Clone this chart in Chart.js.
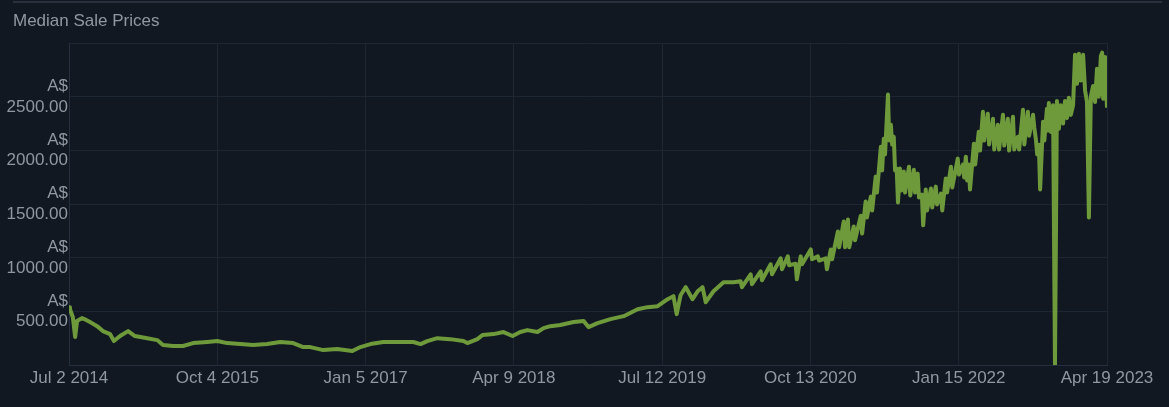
<!DOCTYPE html>
<html>
<head>
<meta charset="utf-8">
<script src="https://cdn.jsdelivr.net/npm/chart.js@4"></script>
<style>
  html, body { margin: 0; padding: 0; background: #111821; }
  #wrap { position: relative; width: 1169px; height: 407px; overflow: hidden; }
  #sep { position: absolute; left: 13px; top: 1px; width: 1149px; height: 2px; background: #28313d; }
  #title { position: absolute; left: 13px; top: 11px; font: 17px Arial, "Liberation Sans", sans-serif; color: #8f98a0; white-space: nowrap; }
  canvas { display: block; }
</style>
</head>
<body>
<div id="wrap">
  <div id="sep"></div>
  <div id="title">Median Sale Prices</div>
  <canvas id="c" width="1169" height="407"></canvas>
</div>
<script>
// Series starts Jul 2 2014; x values are days since that date.
const startDate = "Jul 2 2014";
const tickDays = [0, 459, 918, 1377, 1836, 2295, 2754, 3213];
const tickLabels = ["Jul 2 2014", "Oct 4 2015", "Jan 5 2017", "Apr 9 2018", "Jul 12 2019", "Oct 13 2020", "Jan 15 2022", "Apr 19 2023"];
const yTicks = [500, 1000, 1500, 2000, 2500];
const currency = "A$";

const daysSinceStart = [
  // 2014 - 2020
  0, 3, 12, 19, 25, 40, 53, 65, 87, 105, 127, 139, 158, 183, 204, 242, 273, 291, 322, 353,
  384, 428, 459, 490, 530, 570, 613, 654, 694, 725, 747, 787, 830, 877, 902, 933, 973, 1026, 1066, 1088,
  1109, 1140, 1180, 1221, 1233, 1264, 1280, 1314, 1345, 1373, 1397, 1419, 1450, 1469, 1490, 1521, 1562, 1593, 1608, 1636,
  1676, 1717, 1760, 1791, 1822, 1853, 1871, 1881, 1893, 1909, 1930, 1946, 1961, 1971, 1995, 2026, 2057,
  // 2020 - 2023 (daily swings: high, low)
  2079, 2083, 2110, 2114, 2141, 2145, 2172, 2176, 2203, 2207, 2225, 2229, 2249, 2253, 2265, 2269, 2296, 2300, 2318, 2322,
  2342, 2346, 2358, 2362, 2380, 2384, 2398, 2402, 2411, 2415, 2429, 2433, 2451, 2455, 2466, 2470, 2482, 2486, 2497, 2501,
  2513, 2517, 2522, 2526, 2535, 2539, 2544, 2548, 2553, 2557, 2562, 2566, 2572, 2576, 2584, 2588, 2600, 2604, 2615, 2619,
  2627, 2631, 2640, 2644, 2652, 2656, 2668, 2672, 2683, 2687, 2699, 2703, 2714, 2718, 2730, 2734, 2751, 2755, 2767, 2771,
  2776, 2780, 2785, 2789, 2801, 2805, 2816, 2820, 2829, 2833, 2844, 2848, 2860, 2864, 2875, 2879, 2891, 2895, 2906, 2910,
  2922, 2926, 2937, 2941, 2953, 2957, 2968, 2972, 2984, 2988, 2993, 2997, 3002, 3006, 3015, 3019, 3027, 3030,
  // 2022 - 2023
  3033, 3040, 3046, 3052, 3058, 3064, 3070, 3077, 3083, 3089, 3095, 3101, 3108, 3114, 3120, 3126, 3132, 3139, 3145, 3151,
  3157, 3163, 3170, 3176, 3182, 3188, 3194, 3198, 3201, 3207, 3210, 3213
];
const medianPrices = [
  // 2014 - 2020
  539, 520, 445, 260, 410, 437, 420, 400, 362, 316, 288, 223, 270, 316, 270, 250, 232, 186, 177, 177,
  204, 214, 223, 204, 195, 186, 195, 214, 204, 167, 167, 139, 149, 130, 167, 195, 214, 214, 214, 195,
  223, 250, 241, 223, 204, 241, 279, 288, 307, 270, 307, 325, 307, 344, 362, 372, 400, 409, 353, 390,
  427, 455, 520, 539, 548, 613, 641, 474, 650, 725, 613, 687, 725, 585, 687, 771, 771,
  // 2020 - 2023 (daily swings: high, low)
  780, 725, 845, 753, 873, 790, 938, 846, 994, 892, 1012, 929, 944, 799, 1012, 939, 1077, 985, 1012, 973,
  994, 892, 1077, 985, 1244, 1097, 1337, 1097, 1356, 1097, 1291, 1162, 1390, 1225, 1523, 1375, 1569, 1440, 1755, 1607,
  2034, 1812, 2108, 1961, 2520, 2091, 2238, 2054, 2127, 1812, 1830, 1515, 1830, 1626, 1802, 1607, 1848, 1580, 1820, 1607,
  1783, 1561, 1588, 1301, 1635, 1440, 1644, 1468, 1662, 1496, 1597, 1440, 1737, 1607, 1848, 1654, 1923, 1775, 1867, 1747,
  1941, 1719, 1867, 1635, 2062, 1868, 2173, 1998, 2359, 2091, 2341, 2054, 2294, 2007, 2238, 2007, 2331, 2044, 2294, 1998,
  2313, 2007, 2127, 2007, 2378, 2054, 2359, 2137, 2331, 2211, 2099, 1961, 2053, 1635, 2266, 2091, 2387, 2184,
  // 2022 - 2023
  2440, 2170, 2420, 5, 2460, 2200, 2420, 2250, 2460, 2300, 2490, 2330, 2420, 2890, 2620, 2900, 2650, 2890, 2560, 2450,
  1375, 2500, 2600, 2450, 2760, 2500, 2880, 2910, 2480, 2870, 2600, 2397
];

const points = daysSinceStart.map((d, i) => ({ x: d, y: medianPrices[i] }));

const textColor = "#8f98a0";
const gridColor = "#1d2734";
const borderColor = "#243040";
const lineColor = "#6e9a3c";
const font = { family: "Arial, 'Liberation Sans', sans-serif", size: 17, lineHeight: 1.2 };

new Chart(document.getElementById("c"), {
  type: "line",
  data: {
    datasets: [{
      data: points,
      borderColor: lineColor,
      borderWidth: 4,
      borderJoinStyle: "round",
      pointRadius: 0,
      tension: 0,
      fill: false
    }]
  },
  options: {
    responsive: false,
    animation: false,
    parsing: false,
    normalized: true,
    layout: { padding: { top: 43, right: 62, left: 0, bottom: 0 } },
    plugins: { legend: { display: false }, tooltip: { enabled: false }, title: { display: false } },
    scales: {
      x: {
        type: "linear",
        min: tickDays[0],
        max: tickDays[tickDays.length - 1],
        afterBuildTicks: (scale) => { scale.ticks = tickDays.map(v => ({ value: v })); },
        afterFit: (scale) => { scale.height = 42; },
        ticks: {
          autoSkip: false,
          maxRotation: 0,
          minRotation: 0,
          padding: 3,
          color: textColor,
          font: font,
          callback: (value, index) => tickLabels[index]
        },
        grid: { color: gridColor, drawTicks: false },
        border: { color: borderColor }
      },
      y: {
        min: 0,
        max: 3000,
        afterBuildTicks: (scale) => { scale.ticks = [0].concat(yTicks, [3000]).map(v => ({ value: v })); },
        afterFit: (scale) => { scale.width = 69; },
        ticks: {
          padding: 1,
          color: textColor,
          font: font,
          callback: (value) => yTicks.includes(value) ? [currency, value.toFixed(2)] : ""
        },
        grid: { color: gridColor, drawTicks: false },
        border: { color: borderColor }
      }
    }
  }
});
</script>
</body>
</html>
